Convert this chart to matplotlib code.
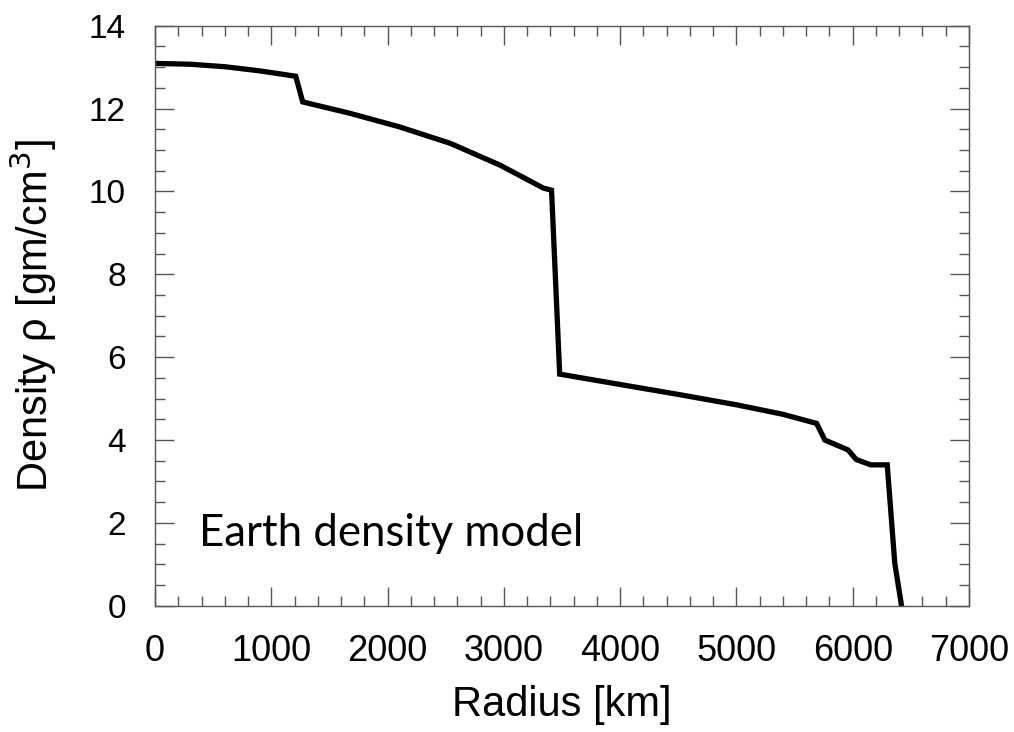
import matplotlib
matplotlib.use("Agg")
import matplotlib.pyplot as plt
from matplotlib.ticker import MultipleLocator

# radius (km) and density (g/cm^3)
radius_km = [0, 300, 600, 900, 1210, 1270, 1670, 2100, 2540, 2970, 3340, 3410,
             3480, 4000, 4500, 5000, 5400, 5690, 5760, 5960, 6030, 6155,
             6297, 6362, 6420]
density = [13.09, 13.07, 13.01, 12.91, 12.78, 12.16, 11.89, 11.56, 11.16, 10.63,
           10.08, 10.03, 5.59, 5.34, 5.10, 4.85, 4.62, 4.40, 4.00, 3.76, 3.53,
           3.40, 3.40, 1.02, 0.0]

x_ticks = [0, 1000, 2000, 3000, 4000, 5000, 6000, 7000]
y_ticks = [0, 2, 4, 6, 8, 10, 12, 14]

FRAME = "#555555"

fig = plt.figure(figsize=(10.14, 7.32), dpi=100)
ax = fig.add_axes([0.1529, 0.1725, 0.8027, 0.7924])

ax.plot(radius_km, density, color="black", linewidth=3.8, solid_joinstyle="miter")

ax.set_xlim(0, 7000)
ax.set_ylim(0, 14)
ax.set_xticks(x_ticks)
ax.set_yticks(y_ticks)
ax.xaxis.set_minor_locator(MultipleLocator(200))
ax.yaxis.set_minor_locator(MultipleLocator(0.5))

for s in ax.spines.values():
    s.set_color(FRAME)
    s.set_linewidth(1.0)

ax.tick_params(which="both", direction="in", top=True, right=True, color=FRAME, width=1.0)
ax.tick_params(which="major", length=13.5)
ax.tick_params(which="minor", length=7)
ax.tick_params(axis="x", which="major", pad=20, labelsize=26)
ax.tick_params(axis="y", which="major", pad=21, labelsize=24)
for lab in ax.get_xticklabels() + ax.get_yticklabels():
    lab.set_fontfamily("Liberation Sans")

ax.set_xlabel("Radius [km]", fontsize=30, family="Liberation Sans", labelpad=12)
ax.set_ylabel("Density ρ [gm/cm$^3$]", fontsize=30, family="Liberation Sans", labelpad=10)
ax.yaxis.set_label_coords(-0.118, 0.5)

ax.text(380, 1.45, "Earth density model", fontsize=31.5, family="Lato",
        ha="left", va="baseline")

fig.savefig("out.png", dpi=100)
